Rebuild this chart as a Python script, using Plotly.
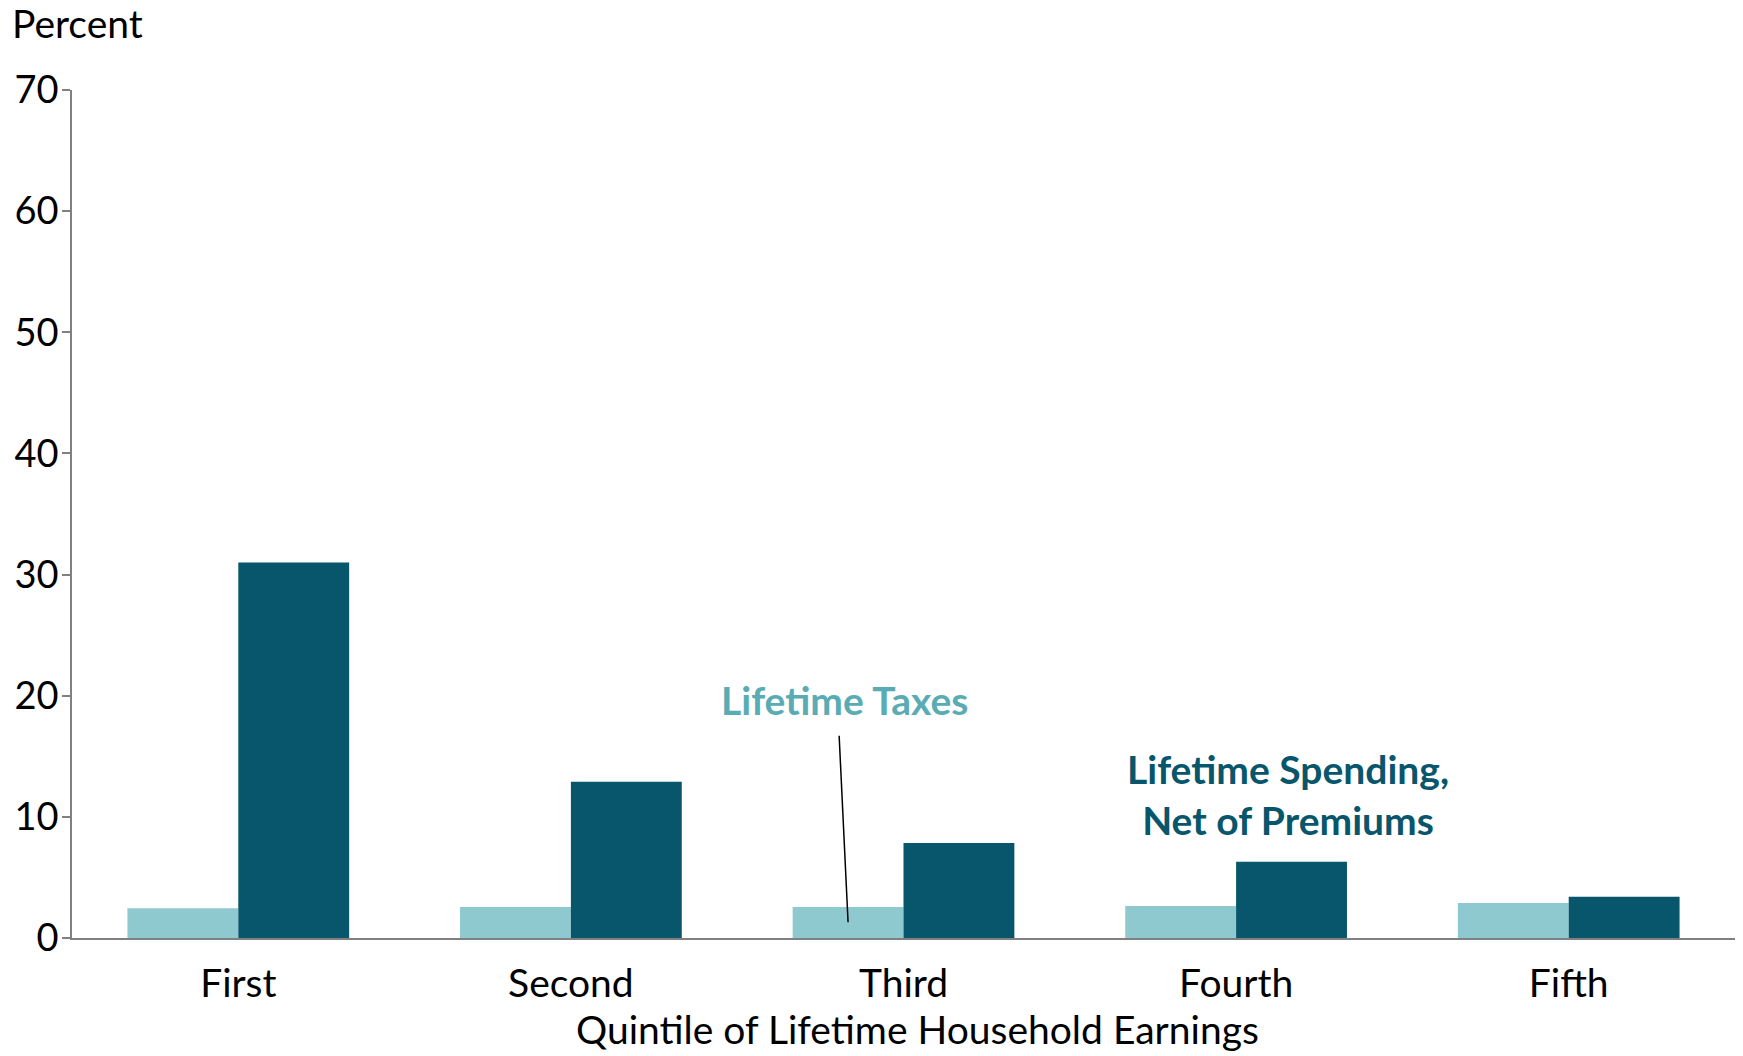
import plotly.graph_objects as go

categories = ["First", "Second", "Third", "Fourth", "Fifth"]
lifetime_taxes = [2.45, 2.56, 2.56, 2.64, 2.89]
lifetime_spending = [31.0, 12.9, 7.85, 6.3, 3.4]
y_ticks = [0, 10, 20, 30, 40, 50, 60, 70]

LIGHT = "#8fc9d0"
DARK = "#08566b"
TAXES_TXT = "#5aacb4"
FONT = "Lato"
AX = "#808080"

L, R, T, B = 72, 8, 90, 118
PW = 1743 - L - R
PH = 1056 - T - B

fig = go.Figure()
fig.add_trace(go.Bar(x=categories, y=lifetime_taxes, name="Lifetime Taxes",
                     marker=dict(color=LIGHT, line=dict(width=0))))
fig.add_trace(go.Bar(x=categories, y=lifetime_spending, name="Lifetime Spending, Net of Premiums",
                     marker=dict(color=DARK, line=dict(width=0))))

fig.update_layout(
    width=1743, height=1056,
    margin=dict(l=L, r=R, t=T, b=B),
    paper_bgcolor="white", plot_bgcolor="white",
    barmode="group", bargap=1/3, bargroupgap=0,
    showlegend=False,
    font=dict(family=FONT, size=38, color="black"),
    xaxis=dict(
        showline=True, linecolor=AX, linewidth=2,
        ticks="", showgrid=False, zeroline=False,
        tickfont=dict(size=39), ticklabelstandoff=10,
    ),
    yaxis=dict(
        range=[0, 70], tickvals=y_ticks, ticktext=[str(v) for v in y_ticks],
        showline=True, linecolor=AX, linewidth=1.5,
        ticks="outside", ticklen=8, tickcolor=AX, tickwidth=1.5,
        showgrid=False, zeroline=False,
        tickfont=dict(size=38), ticklabelstandoff=-4,
    ),
)

fig.add_annotation(text="Quintile of Lifetime Household Earnings", xref="paper", yref="paper",
                   x=0.5 + 14 / PW, y=-(1029 - (T + PH)) / PH, xanchor="center", yanchor="middle",
                   showarrow=False, font=dict(size=39))

fig.add_annotation(text="Percent", xref="paper", yref="paper", x=-(L - 10) / PW, y=1 + (T - 23) / PH,
                   xanchor="left", yanchor="middle", showarrow=False, font=dict(size=39))

fig.add_annotation(text="<b>Lifetime Taxes</b>", xref="x", yref="paper",
                   x=1.824, y=(938 - 700) / PH, xanchor="center", yanchor="middle",
                   showarrow=False, font=dict(size=39, color=TAXES_TXT))
fig.add_annotation(x=2 - 1/6, y=1.3, xref="x", yref="y", text="", showarrow=True,
                   arrowhead=0, arrowwidth=1.5, arrowcolor="black", ax=-9, ay=-188)

fig.add_annotation(text="<b>Lifetime Spending,<br>Net of Premiums</b>", xref="x", yref="paper",
                   x=3 + 0.155, y=(938 - 794) / PH, xanchor="center", yanchor="middle",
                   showarrow=False, font=dict(size=39, color=DARK))

fig.write_html("out.html")
